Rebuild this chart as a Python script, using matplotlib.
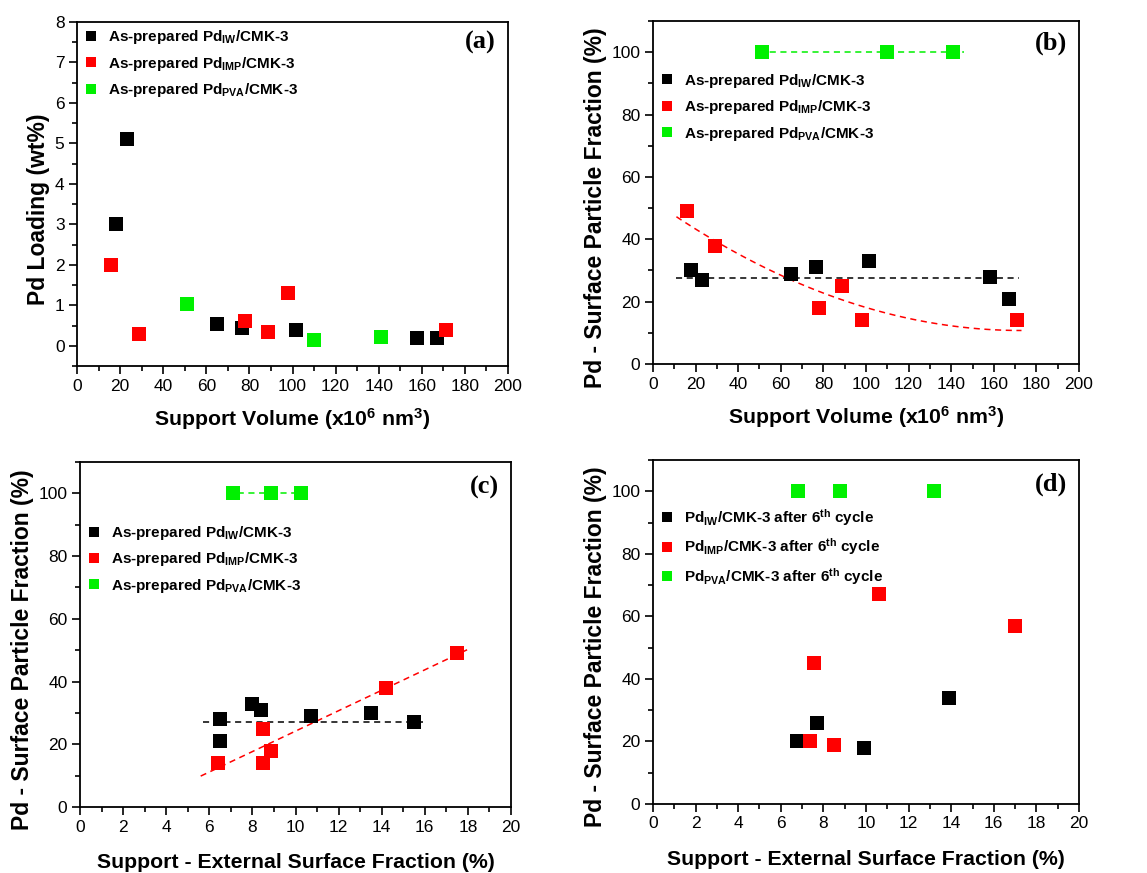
import numpy as np
import matplotlib
matplotlib.use('Agg')
import matplotlib.pyplot as plt
from matplotlib.ticker import MultipleLocator
from matplotlib.lines import Line2D

plt.rcParams['font.family'] = ['Liberation Sans', 'DejaVu Sans']
plt.rcParams['mathtext.fontset'] = 'custom'
plt.rcParams['mathtext.rm'] = 'Liberation Sans:bold'
plt.rcParams['mathtext.it'] = 'Liberation Sans:bold'
plt.rcParams['mathtext.bf'] = 'Liberation Sans:bold'
plt.rcParams['mathtext.default'] = 'rm'

BLACK = '#000000'
RED = '#ff0000'
GREEN = '#00f000'

# (a) and (b): support volume (x10^6 nm^3)
vol_iw = [18, 23, 65, 76.5, 101.5, 158, 167]
vol_imp = [16, 29, 78, 88.5, 98, 171]
vol_pva = [51, 110, 141]

load_iw = [3.0, 5.12, 0.55, 0.45, 0.38, 0.2, 0.18]
load_imp = [2.0, 0.28, 0.6, 0.35, 1.3, 0.4]
load_pva = [1.03, 0.15, 0.22]

frac_iw_b = [30, 27, 29, 31, 33, 28, 21]
frac_imp_b = [49, 38, 18, 25, 14, 14]
frac_pva_b = [100, 100, 100]

# (c): external surface fraction (%) of as-prepared samples
ext_iw = [6.5, 6.5, 8.0, 8.4, 10.7, 13.5, 15.5]
ext_imp = [6.4, 8.5, 8.5, 8.85, 14.2, 17.5]
ext_pva = [7.1, 8.85, 10.25]

frac_iw_c = [28, 21, 33, 31, 29, 30, 27]
frac_imp_c = [14, 25, 14, 18, 38, 49]
frac_pva_c = [100, 100, 100]

# (d): after 6th cycle
ext_iw_d = [6.75, 7.7, 9.9, 13.9]
ext_imp_d = [7.35, 7.55, 8.5, 10.6, 17.0]
ext_pva_d = [6.8, 8.8, 13.2]

frac_iw_d = [20, 26, 18, 34]
frac_imp_d = [20, 45, 19, 67, 57]
frac_pva_d = [100, 100, 100]

# guide lines (level / range)
iw_level_b, iw_range_b = 27.5, (11, 172)
pva_range_b = (50, 146)
# points in (b)
imp_curve_x = [11, 62, 100, 140, 173]
imp_curve_y = [47.5, 27, 18.7, 12.5, 10.5]
iw_level_c, iw_range_c = 27.2, (5.7, 15.9)
imp_range_c = (5.6, 18.1)
pva_range_c = (6.8, 10.6)

labels_prep = ['As-prepared Pd$_{IW}$/CMK-3',
               'As-prepared Pd$_{IMP}$/CMK-3',
               'As-prepared Pd$_{PVA}$/CMK-3']
labels_cycle = ['Pd$_{IW}$/CMK-3 after 6$^{th}$ cycle',
                'Pd$_{IMP}$/CMK-3 after 6$^{th}$ cycle',
                'Pd$_{PVA}$/CMK-3 after 6$^{th}$ cycle']

vol_label = 'Support Volume (x10$^{6}$ nm$^{3}$)'
ext_label = 'Support - External Surface Fraction (%)'
spf_label = 'Pd - Surface Particle Fraction (%)'

W, H = 1147, 873
fig = plt.figure(figsize=(W / 100, H / 100), dpi=100)


def px_axes(left, top, right, bottom):
    return fig.add_axes([left / W, 1 - bottom / H, (right - left) / W, (bottom - top) / H])


def style(ax, xmax, xmaj, ymin, ymax, ymaj, letter, ly):
    ax.set_xlim(0, xmax)
    ax.set_ylim(ymin, ymax)
    ax.xaxis.set_major_locator(MultipleLocator(xmaj))
    ax.xaxis.set_minor_locator(MultipleLocator(xmaj / 2))
    ax.yaxis.set_major_locator(MultipleLocator(ymaj))
    ax.yaxis.set_minor_locator(MultipleLocator(ymaj / 2))
    ax.tick_params(which='both', direction='out', top=False, right=False, width=1.2)
    ax.tick_params(which='major', length=6, labelsize=12.5, pad=3)
    ax.tick_params(which='minor', length=3.5)
    for s in ax.spines.values():
        s.set_linewidth(1.3)
    ax.text(0.972, ly, letter, transform=ax.transAxes, ha='right', va='center',
            fontsize=19, fontweight='bold', family='Liberation Serif')


def scatter3(ax, xs, ys):
    for x, y, c in zip(xs, ys, [BLACK, RED, GREEN]):
        ax.plot(x, y, 's', color=c, ms=9.5, mec=c, mew=0, zorder=3)


def legend(ax, labels, ytop, spacing=0.55):
    handles = [Line2D([], [], ls='none', marker='s', color=c, ms=7.5, mew=0)
               for c in [BLACK, RED, GREEN]]
    ax.legend(handles, labels, loc='upper left', bbox_to_anchor=(0.0, ytop),
              frameon=False, handlelength=1.0, handletextpad=0.6,
              labelspacing=spacing, borderaxespad=0.2, borderpad=0.2,
              prop={'weight': 'bold', 'size': 11})


def hline(ax, level, rng, color):
    ax.plot(rng, [level, level], ls=(0, (4, 3)), color=color, lw=1.1, zorder=2)


def xlab(ax, text, pad):
    ax.set_xlabel(text, fontsize=15.3, fontweight='bold', labelpad=pad)


def ylab(ax, text):
    ax.set_ylabel(text, fontsize=16.5, fontweight='bold', labelpad=3.5, y=0.456)


# (a)
ax = px_axes(77, 22, 508, 366)
scatter3(ax, [vol_iw, vol_imp, vol_pva], [load_iw, load_imp, load_pva])
style(ax, 200, 20, -0.5, 8, 1, '(a)', 0.94)
xlab(ax, vol_label, 9)
ylab(ax, 'Pd Loading (wt%)')
legend(ax, labels_prep, 1.0)

# (b)
ax = px_axes(653, 21, 1079, 364)
hline(ax, 100, pva_range_b, GREEN)
hline(ax, iw_level_b, iw_range_b, BLACK)
p = np.polyfit(imp_curve_x, imp_curve_y, 2)
xf = np.linspace(imp_curve_x[0], imp_curve_x[-1], 100)
ax.plot(xf, np.polyval(p, xf), ls=(0, (4, 3)), color=RED, lw=1.1, zorder=2)
scatter3(ax, [vol_iw, vol_imp, vol_pva], [frac_iw_b, frac_imp_b, frac_pva_b])
style(ax, 200, 20, 0, 110, 20, '(b)', 0.935)
xlab(ax, vol_label, 9)
ylab(ax, spf_label)
legend(ax, labels_prep, 0.87)

# (c)
ax = px_axes(80, 462, 511, 807)
hline(ax, 100, pva_range_c, GREEN)
hline(ax, iw_level_c, iw_range_c, BLACK)
p = np.polyfit(ext_imp, frac_imp_c, 1)
xf = np.array(imp_range_c)
ax.plot(xf, np.polyval(p, xf), ls=(0, (4, 3)), color=RED, lw=1.1, zorder=2)
scatter3(ax, [ext_iw, ext_imp, ext_pva], [frac_iw_c, frac_imp_c, frac_pva_c])
style(ax, 20, 2, 0, 110, 20, '(c)', 0.925)
xlab(ax, ext_label, 13.5)
ylab(ax, spf_label)
legend(ax, labels_prep, 0.838)

# (d)
ax = px_axes(653, 460, 1079, 804)
scatter3(ax, [ext_iw_d, ext_imp_d, ext_pva_d], [frac_iw_d, frac_imp_d, frac_pva_d])
style(ax, 20, 2, 0, 110, 20, '(d)', 0.93)
xlab(ax, ext_label, 13)
ylab(ax, spf_label)
legend(ax, labels_cycle, 0.882, spacing=0.58)

fig.savefig('out.png', dpi=100)
